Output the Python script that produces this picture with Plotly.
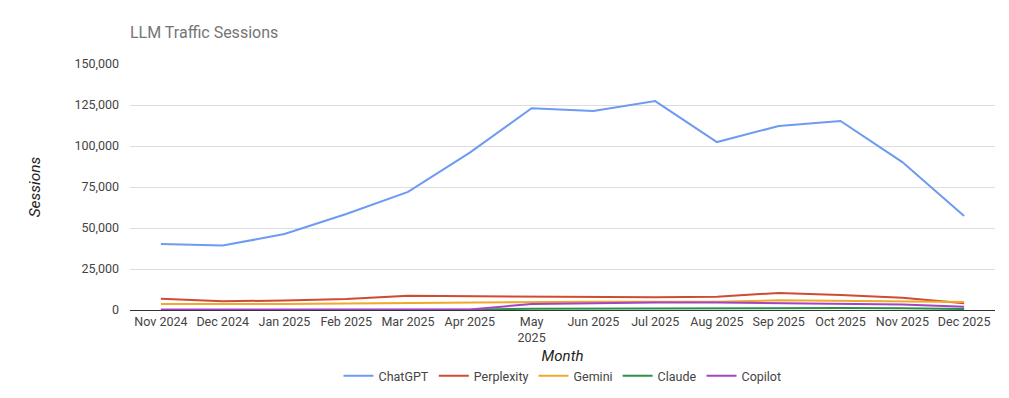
import plotly.graph_objects as go

months = ["Nov 2024", "Dec 2024", "Jan 2025", "Feb 2025", "Mar 2025", "Apr 2025", "May 2025",
          "Jun 2025", "Jul 2025", "Aug 2025", "Sep 2025", "Oct 2025", "Nov 2025", "Dec 2025"]
tick_labels = ["Nov 2024", "Dec 2024", "Jan 2025", "Feb 2025", "Mar 2025", "Apr 2025", "May<br>2025",
               "Jun 2025", "Jul 2025", "Aug 2025", "Sep 2025", "Oct 2025", "Nov 2025", "Dec 2025"]

chatgpt = [40200, 39300, 46300, 58500, 72000, 96000, 123000, 121300, 127400, 102400, 112200, 115300, 90200, 57300]
perplexity = [6900, 5300, 5800, 6700, 8700, 8400, 8400, 7700, 7700, 8100, 10400, 9100, 7500, 4100]
gemini = [3700, 3500, 3600, 3900, 4300, 4500, 4900, 5100, 5000, 5100, 5900, 5500, 5000, 4900]
claude = [0, 0, 0, 0, 0, 200, 800, 900, 1200, 1100, 1200, 1200, 1000, 600]
copilot = [300, 300, 300, 300, 300, 300, 3700, 4300, 4500, 4500, 4000, 3800, 3300, 2000]

series = [
    ("ChatGPT", chatgpt, "#6d9bf2"),
    ("Perplexity", perplexity, "#d04b32"),
    ("Gemini", gemini, "#f0a929"),
    ("Claude", claude, "#2e8f4b"),
    ("Copilot", copilot, "#a444c4"),
]

fig = go.Figure()
for name, vals, color in series:
    fig.add_trace(go.Scatter(x=months, y=vals, name=name, mode="lines",
                             line=dict(color=color, width=2)))

W, H = 1001, 390
fig.update_layout(
    width=W, height=H,
    margin=dict(l=122, r=14, t=56, b=88, autoexpand=False),
    paper_bgcolor="white", plot_bgcolor="white",
    font=dict(family="Roboto, Arial, sans-serif", size=12.5, color="#444444"),
    title=dict(text="LLM Traffic Sessions", x=122 / W, xanchor="left", y=1 - 24 / H, yanchor="middle",
               pad=dict(l=0, r=0, t=0, b=0),
               font=dict(size=16, color="#757575")),
    showlegend=True,
    legend=dict(orientation="h", x=0.5, xanchor="center", yref="paper", y=(310 - 376) / 246, yanchor="middle",
                font=dict(size=12.5, color="#444444"), traceorder="normal"),
    hovermode=False,
)
fig.update_xaxes(
    type="category", tickmode="array", tickvals=months, ticktext=tick_labels,
    range=[-0.5, 13.5], automargin=False,
    showgrid=False, showline=False, ticks="", tickangle=0, ticklabelstandoff=2,
    title=dict(text="<i>Month</i>", font=dict(size=15, color="#222222"), standoff=6),
)
fig.update_yaxes(
    range=[0, 150000], tickvals=[0, 25000, 50000, 75000, 100000, 125000, 150000],
    tickformat=",", showgrid=True, gridcolor="#dddddd", gridwidth=1,
    zeroline=True, zerolinecolor="#333333", zerolinewidth=1, automargin=False,
    ticks="", ticklen=0, ticklabelstandoff=10,
    title=dict(text="<i>Sessions</i>", font=dict(size=15.5, color="#222222"), standoff=29),
)

fig.write_html("out.html")
